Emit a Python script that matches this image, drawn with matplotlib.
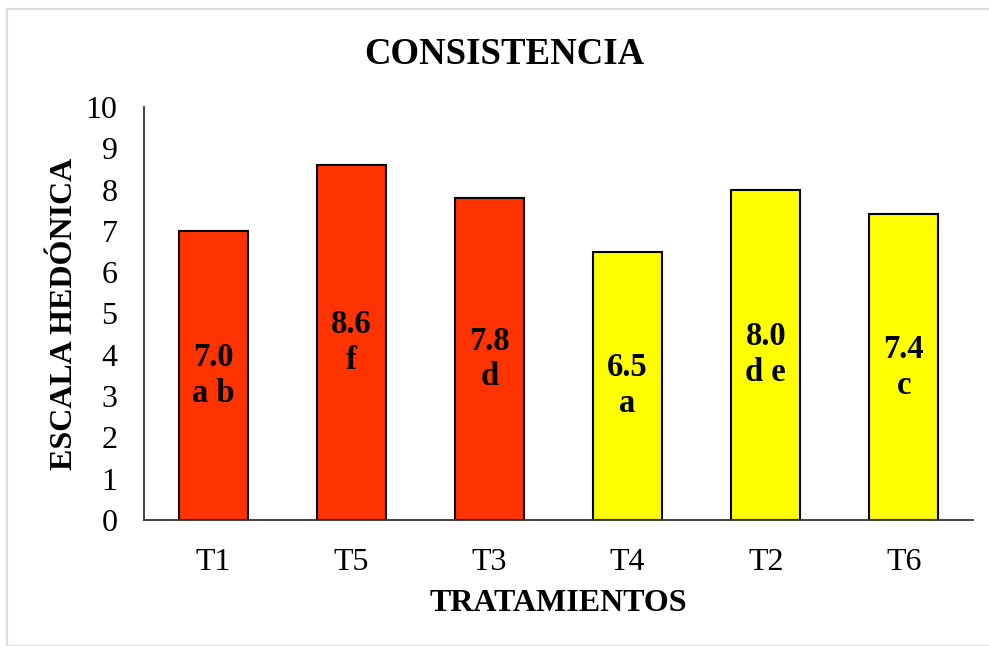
import matplotlib
matplotlib.use("Agg")
import matplotlib.pyplot as plt
from matplotlib.patches import Rectangle

categories = ["T1", "T5", "T3", "T4", "T2", "T6"]
values = [7.0, 8.6, 7.8, 6.5, 8.0, 7.4]
letters = ["a b", "f", "d", "a", "d e", "c"]
colors = ["#FF3300", "#FF3300", "#FF3300", "#FFFF00", "#FFFF00", "#FFFF00"]
yticks = [0, 1, 2, 3, 4, 5, 6, 7, 8, 9, 10]

plt.rcParams['font.family'] = ['Liberation Serif', 'DejaVu Serif']

fig = plt.figure(figsize=(9.89, 6.46), dpi=100)
fig.patches.append(Rectangle((7/989, 0), 1, 1 - 9/646, transform=fig.transFigure,
                             fill=False, edgecolor="#D9DEE3", linewidth=1.5))
ax = fig.add_axes([144/989, 1 - 520/646, (973 - 144)/989, (520 - 107)/646])

x = list(range(len(categories)))
ax.bar(x, values, width=0.5, color=colors, edgecolor="black", linewidth=1.5)
for xi, v, l in zip(x, values, letters):
    ax.text(xi, v / 2, f"{v:.1f}\n{l}", ha="center", va="center",
            fontsize=23.5, fontweight="bold", linespacing=1.2)

ax.set_xlim(-0.5, len(categories) - 0.5)
ax.set_ylim(0, 10)
ax.set_yticks(yticks)
ax.set_xticks(x)
ax.set_xticklabels(categories)
ax.tick_params(axis="both", length=0, labelsize=23)
ax.tick_params(axis="x", pad=20)
ax.tick_params(axis="y", pad=19)
for s in ["top", "right"]:
    ax.spines[s].set_visible(False)
for s in ["left", "bottom"]:
    ax.spines[s].set_linewidth(1.3)
    ax.spines[s].set_color("#333333")

ax.set_xlabel("TRATAMIENTOS", fontsize=23, fontweight="bold", labelpad=9)
ax.set_ylabel("ESCALA HEDÓNICA", fontsize=23, fontweight="bold", labelpad=5)
fig.text(504/989, 1 - 54/646, "CONSISTENCIA", fontsize=26.5,
         fontweight="bold", ha="center", va="center")

fig.savefig("out.png", dpi=100)
